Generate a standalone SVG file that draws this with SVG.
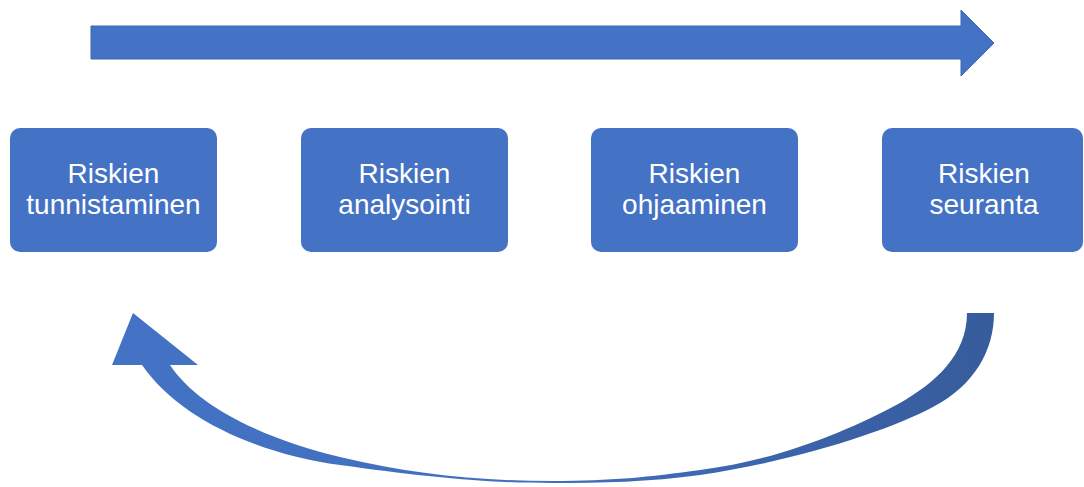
<svg xmlns="http://www.w3.org/2000/svg" width="1084" height="487" viewBox="0 0 1084 487">
  <defs>
    <style>
      .box { fill: #4472C4; }
      .lbl { fill: #FFFFFF; font-family: "Liberation Sans", Arial, sans-serif; font-size: 28px; text-anchor: middle; }
    </style>
    <linearGradient id="curveGrad" gradientUnits="userSpaceOnUse" x1="112" y1="0" x2="994" y2="0">
      <stop offset="0" stop-color="#4472C4"/>
      <stop offset="0.45" stop-color="#4270BF"/>
      <stop offset="0.8" stop-color="#3B62A8"/>
      <stop offset="1" stop-color="#365C9C"/>
    </linearGradient>
  </defs>
  <rect width="1084" height="487" fill="#FFFFFF"/>

  <g id="connectors">
    <path id="top-arrow" d="M 91 26 H 961 V 10 L 994 43 L 961 76 V 59 H 91 Z" fill="#4472C4" stroke="#3C66B0" stroke-width="1"/>
    <path id="return-arrow" fill="url(#curveGrad)" d="M 994 313 C 994 350, 975 385, 933 407 C 890 430, 800 460, 700 475 C 650 482, 600 483, 553 483 C 480 483, 420 476, 340 465 C 260 454, 180 420, 142 365 L 112 365 L 133 313 L 198 365 L 170 365 C 200 410, 270 440, 340 457 C 410 474, 480 481, 553 481 C 610 481, 650 477, 700 470 C 780 460, 850 430, 900 403 C 935 383, 967 355, 967 313 Z"/>
  </g>

  <g id="node1">
    <rect class="box" x="10" y="128" width="207" height="124" rx="10"/>
    <text class="lbl" x="113.5" y="183">Riskien</text>
    <text class="lbl" x="113.5" y="214">tunnistaminen</text>
  </g>
  <g id="node2">
    <rect class="box" x="301" y="128" width="207" height="124" rx="10"/>
    <text class="lbl" x="404.5" y="183">Riskien</text>
    <text class="lbl" x="404.5" y="214">analysointi</text>
  </g>
  <g id="node3">
    <rect class="box" x="591" y="128" width="207" height="124" rx="10"/>
    <text class="lbl" x="694.5" y="183">Riskien</text>
    <text class="lbl" x="694.5" y="214">ohjaaminen</text>
  </g>
  <g id="node4">
    <rect class="box" x="882" y="128" width="201" height="124" rx="10"/>
    <text class="lbl" x="984" y="183">Riskien</text>
    <text class="lbl" x="984" y="214">seuranta</text>
  </g>
</svg>
